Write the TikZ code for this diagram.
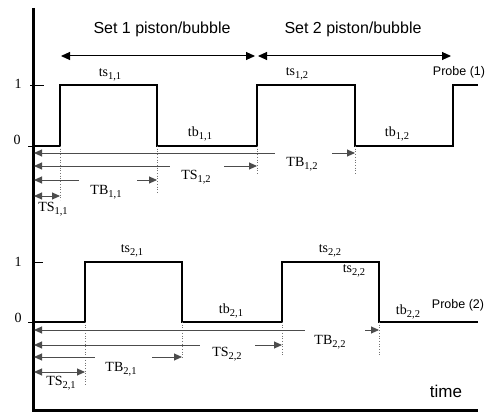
\documentclass[tikz,border=0pt]{standalone}
\usepackage{fontspec}
\setmainfont{Liberation Serif}
\newfontfamily\arialf{Liberation Sans}
\usetikzlibrary{arrows.meta}
\tikzset{
  wave/.style={line width=2.6pt, line join=miter},
  axisline/.style={line width=3pt},
  meas/.style={line width=0.9pt, black!70},
  tipl/.style={meas, {Triangle[length=8pt,width=7pt]}-},
  tipr/.style={meas, -{Triangle[length=8pt,width=7pt]}},
  tipb/.style={meas, {Triangle[length=8pt,width=7pt]}-{Triangle[length=8pt,width=7pt]}},
  setarrow/.style={line width=1pt, {Triangle[length=9pt,width=8pt]}-{Triangle[length=9pt,width=8pt]}},
  guide/.style={line width=0.7pt, black!55, dotted},
  lab/.style={font=\fontsize{14}{15}\selectfont, inner sep=1pt},
  sans/.style={font=\arialf\fontsize{16}{18}\selectfont, inner sep=1pt},
  probe/.style={font=\arialf\fontsize{12.5}{14}\selectfont, inner sep=1pt},
}
\newcommand{\sbs}[1]{\raisebox{-3.2pt}{\fontsize{10.5}{11}\selectfont #1}}
\begin{document}
\begin{tikzpicture}[x=1pt,y=-1pt]
\useasboundingbox[fill=white] (0,0) rectangle (487,412);
% axes
\coordinate (ytop) at (33,8);
\coordinate (orig) at (33,410);
\coordinate (xend) at (478,410);
\draw[axisline] (ytop) -- (orig) -- (xend);

% ---------- Probe 1 ----------
\draw[wave] (33,146) -- (60,146) -- (60,85) -- (157,85) -- (157,146) -- (257,146)
  -- (257,85) -- (355,85) -- (355,146) -- (453,146) -- (453,85) -- (478,85);
\draw[line width=1pt] (30,85) -- (44,85);
\draw[line width=1pt] (28,146) -- (33,146);
\node[lab] (one1) at (18,84) {1};
\node[lab] (zero1) at (17,140) {0};

\foreach \n/\x in {p11/60, p12/157, p13/257, p14/355}{ \coordinate (\n) at (\x,146); }
\draw[guide] (p11) -- (60,200);
\draw[guide] (p12) -- (157,192);
\draw[guide] (p13) -- (257,174);
\draw[guide] (p14) -- (355,174);

% set arrows
\coordinate (s1a) at (61,56);
\coordinate (s1b) at (255,56);
\coordinate (s2a) at (258,56);
\coordinate (s2b) at (451,56);
\draw[setarrow] (s1a) -- (s1b);
\draw[setarrow] (s2a) -- (s2b);
\node[sans] (set1) at (162,29) {Set 1 piston/bubble};
\node[sans] (set2) at (353,29) {Set 2 piston/bubble};

\node[lab] (ts11) at (110,75) {ts\sbs{1,1}};
\node[lab] (ts12) at (297,74) {ts\sbs{1,2}};
\node[probe] (pr1) at (459,72) {Probe (1)};
\node[lab] (tb11) at (200,134) {tb\sbs{1,1}};
\node[lab] (tb12) at (397,134) {tb\sbs{1,2}};

% measurement arrows probe 1
\coordinate (m1L) at (34,153); \coordinate (m1a) at (275,153); \coordinate (m1b) at (332,153); \coordinate (m1R) at (355,153);
\draw[tipl] (m1L) -- (m1a); \draw[tipr] (m1b) -- (m1R);
\node[lab] (TB12) at (302,164) {TB\sbs{1,2}};
\coordinate (m2L) at (34,166); \coordinate (m2a) at (170,166); \coordinate (m2b) at (224,166); \coordinate (m2R) at (257,166);
\draw[tipl] (m2L) -- (m2a); \draw[tipr] (m2b) -- (m2R);
\node[lab] (TS12) at (196,177) {TS\sbs{1,2}};
\coordinate (m3L) at (34,180); \coordinate (m3a) at (79,180); \coordinate (m3b) at (137,180); \coordinate (m3R) at (157,180);
\draw[tipl] (m3L) -- (m3a); \draw[tipr] (m3b) -- (m3R);
\node[lab] (TB11) at (106,192) {TB\sbs{1,1}};
\coordinate (m4L) at (34,196); \coordinate (m4R) at (60,196);
\draw[tipb] (m4L) -- (m4R);
\node[lab] (TS11) at (53,209) {TS\sbs{1,1}};

% ---------- Probe 2 ----------
\draw[wave] (33,322) -- (85,322) -- (85,262) -- (182,262) -- (182,322) -- (282,322)
  -- (282,262) -- (379,262) -- (379,322) -- (478,322);
\draw[line width=1pt] (33,262) -- (43,262);
\draw[line width=1pt] (28,322) -- (33,322);
\node[lab] (one2) at (18,262) {1};
\node[lab] (zero2) at (18,318) {0};

\foreach \n/\x in {q11/85, q12/182, q13/282, q14/379}{ \coordinate (\n) at (\x,322); }
\draw[guide] (q11) -- (85,385);
\draw[guide] (q12) -- (182,358);
\draw[guide] (q13) -- (282,355);
\draw[guide] (q14) -- (379,355);

\node[lab] (ts21) at (132,251) {ts\sbs{2,1}};
\node[lab] (ts22) at (330,251) {ts\sbs{2,2}};
\node[lab] (ts22b) at (354,271) {ts\sbs{2,2}};
\node[lab] (tb21) at (231,311) {tb\sbs{2,1}};
\node[lab] (tb22) at (408,312) {tb\sbs{2,2}};
\node[probe] (pr2) at (458,305) {Probe (2)};

\coordinate (n1L) at (34,330); \coordinate (n1a) at (305,330); \coordinate (n1b) at (365,330); \coordinate (n1R) at (379,330);
\draw[tipl] (n1L) -- (n1a); \draw[tipr] (n1b) -- (n1R);
\node[lab] (TB22) at (330,342) {TB\sbs{2,2}};
\coordinate (n2L) at (34,345); \coordinate (n2a) at (200,345); \coordinate (n2b) at (255,345); \coordinate (n2R) at (282,345);
\draw[tipl] (n2L) -- (n2a); \draw[tipr] (n2b) -- (n2R);
\node[lab] (TS22) at (227,354) {TS\sbs{2,2}};
\coordinate (n3L) at (34,357); \coordinate (n3a) at (95,357); \coordinate (n3b) at (152,357); \coordinate (n3R) at (182,357);
\draw[tipl] (n3L) -- (n3a); \draw[tipr] (n3b) -- (n3R);
\node[lab] (TB21) at (121,369) {TB\sbs{2,1}};
\coordinate (n4L) at (34,372); \coordinate (n4R) at (85,372);
\draw[tipb] (n4L) -- (n4R);
\node[lab] (TS21) at (61,383) {TS\sbs{2,1}};

\node[font=\arialf\fontsize{17}{19}\selectfont, inner sep=1pt] (time) at (446,391) {time};
\end{tikzpicture}
\end{document}
